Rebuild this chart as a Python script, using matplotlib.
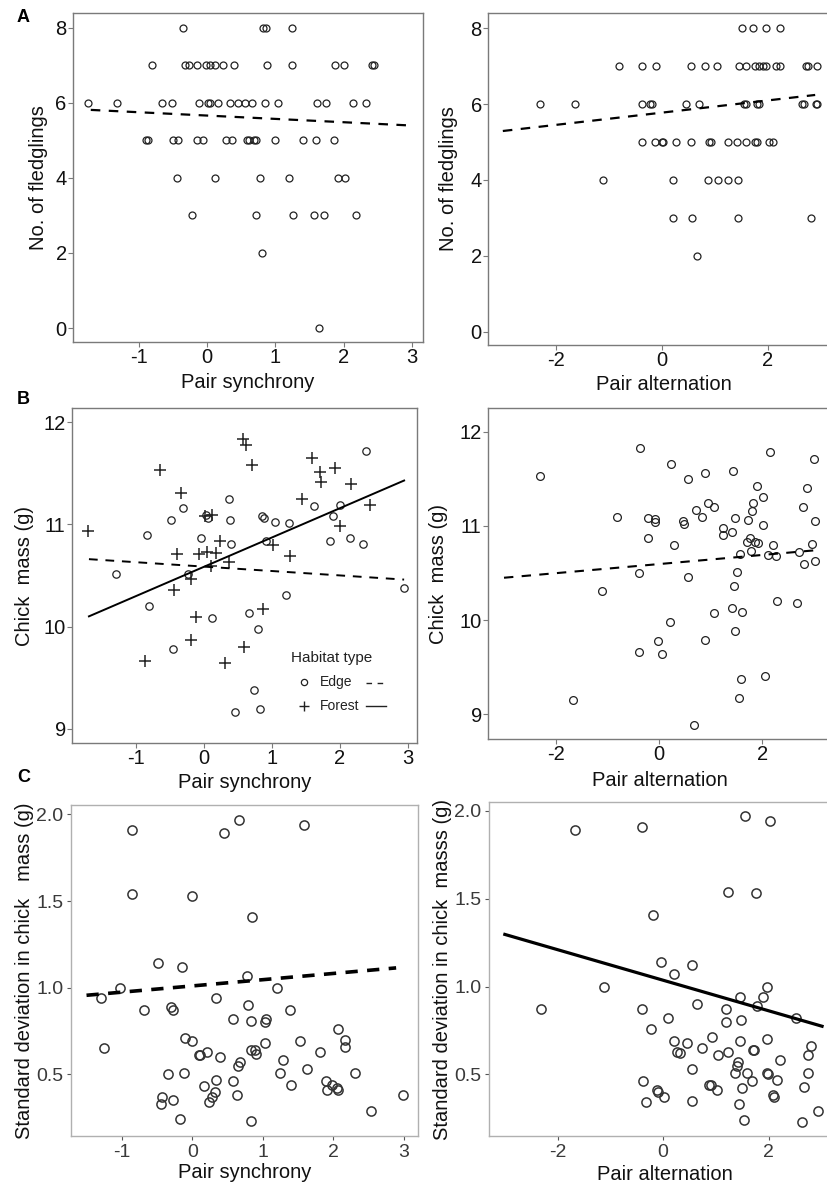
import matplotlib
matplotlib.use("Agg")
import matplotlib.pyplot as plt
from matplotlib.lines import Line2D

plt.rcParams['font.family'] = ['Liberation Sans', 'DejaVu Sans']
plt.rcParams['axes.unicode_minus'] = False

# ---------------- data ----------------
# Panel A left: Pair synchrony vs No. of fledglings
a1_x = [-0.35, 0.82, 0.86, 1.25,
        -0.80, -0.32, -0.26, -0.14, -0.01, 0.04, 0.11, 0.23, 0.40, 0.88, 1.25, 1.88, 2.00, 2.42, 2.45,
        -1.74, -1.31, -0.66, -0.51, -0.11, 0.01, 0.04, 0.16, 0.34, 0.45, 0.56, 0.66, 0.85, 1.04, 1.61, 1.74, 2.13, 2.33,
        -0.89, -0.86, -0.50, -0.43, -0.15, -0.06, 0.28, 0.37, 0.58, 0.61, 0.69, 0.72, 0.99, 1.41, 1.59, 1.86,
        -0.44, 0.11, 0.77, 1.20, 1.92, 2.02,
        -0.22, 0.71, 1.26, 1.57, 1.71, 2.18,
        0.80, 1.64]
a1_y = [8, 8, 8, 8,
        7, 7, 7, 7, 7, 7, 7, 7, 7, 7, 7, 7, 7, 7, 7,
        6, 6, 6, 6, 6, 6, 6, 6, 6, 6, 6, 6, 6, 6, 6, 6, 6, 6,
        5, 5, 5, 5, 5, 5, 5, 5, 5, 5, 5, 5, 5, 5, 5, 5,
        4, 4, 4, 4, 4, 4,
        3, 3, 3, 3, 3, 3,
        2, 0]
a1_fit_x = [-1.70, 2.92]
a1_fit_y = [5.81, 5.40]

# Panel A right: Pair alternation vs No. of fledglings
a2_x = [1.51, 1.72, 1.98, 2.24,
        -0.81, -0.38, -0.11, 0.55, 0.81, 1.04, 1.47, 1.59, 1.76, 1.83, 1.91, 1.98, 2.16, 2.23, 2.72, 2.77, 2.94,
        -2.30, -1.64, -0.38, -0.22, -0.19, 0.46, 0.71, 1.55, 1.59, 1.81, 1.84, 2.66, 2.69, 2.91, 2.94,
        -0.38, -0.12, 0.00, 0.03, 0.28, 0.55, 0.89, 0.93, 1.25, 1.43, 1.59, 1.76, 1.81, 2.03, 2.11,
        -1.11, 0.21, 0.88, 1.06, 1.25, 1.45,
        0.21, 0.57, 1.45, 2.83,
        0.66]
a2_y = [8, 8, 8, 8,
        7, 7, 7, 7, 7, 7, 7, 7, 7, 7, 7, 7, 7, 7, 7, 7, 7,
        6, 6, 6, 6, 6, 6, 6, 6, 6, 6, 6, 6, 6, 6, 6,
        5, 5, 5, 5, 5, 5, 5, 5, 5, 5, 5, 5, 5, 5, 5,
        4, 4, 4, 4, 4, 4,
        3, 3, 3, 3,
        2]
a2_fit_x = [-3.00, 2.90]
a2_fit_y = [5.29, 6.24]

# Panel B left: Pair synchrony vs Chick mass, by habitat
b1_edge_x = [-1.30, -0.84, -0.81, -0.49, -0.46, -0.31, -0.24, -0.05, 0.03, 0.05, 0.12, 0.37,
             0.38, 0.40, 0.45, 0.66, 0.73, 0.79, 0.83, 0.86, 0.88, 0.91, 1.05, 1.20, 1.25,
             1.62, 1.85, 1.90, 2.00, 2.15, 2.34, 2.39, 2.95]
b1_edge_y = [10.51, 10.90, 10.20, 11.04, 9.78, 11.16, 10.51, 10.87, 11.09, 11.06, 10.08, 11.25,
             11.04, 10.81, 9.16, 10.13, 9.38, 9.98, 9.19, 11.08, 11.06, 10.84, 11.02, 10.31, 11.01,
             11.18, 10.84, 11.08, 11.19, 10.87, 10.81, 11.72, 10.38]
b1_forest_x = [-1.71, -0.65, -0.34, -0.40, -0.45, -0.19, -0.20, -0.87, -0.12, -0.07, 0.01, 0.12,
               0.04, 0.18, 0.10, 0.24, 0.36, 0.30, 0.57, 0.62, 0.71, 0.59, 0.87, 1.01, 1.27,
               1.44, 1.59, 1.71, 1.73, 1.93, 2.01, 2.17, 2.45]
b1_forest_y = [10.94, 11.53, 11.31, 10.71, 10.36, 10.47, 9.87, 9.66, 10.09, 10.71, 11.08, 11.09,
               10.73, 10.72, 10.59, 10.84, 10.63, 9.64, 11.84, 11.78, 11.58, 9.80, 10.17, 10.80, 10.69,
               11.25, 11.65, 11.51, 11.42, 11.55, 10.98, 11.40, 11.19]
b1_edge_fit_x = [-1.70, 2.95]
b1_edge_fit_y = [10.66, 10.46]
b1_forest_fit_x = [-1.70, 2.95]
b1_forest_fit_y = [10.10, 11.43]

# Panel B right: Pair alternation vs Chick mass
b2_x = [-2.31, -1.66, -1.11, -0.81, -0.37, -0.38, -0.39, -0.21, -0.22, -0.08, -0.08, -0.02,
        0.05, 0.21, 0.24, 0.30, 0.46, 0.49, 0.57, 0.57, 0.68, 0.72, 0.83, 0.89, 0.89, 0.95,
        1.06, 1.06, 1.24, 1.24, 1.41, 1.43, 1.42, 1.46, 1.47, 1.48, 1.52, 1.56, 1.54, 1.59,
        1.61, 1.73, 1.71, 1.77, 1.78, 1.81, 1.83, 1.85, 1.89, 1.92, 2.02, 2.02, 2.06, 2.11,
        2.14, 2.21, 2.27, 2.29, 2.67, 2.71, 2.79, 2.80, 2.86, 2.97, 3.00, 3.02, 3.03]
b2_y = [11.53, 9.15, 10.31, 11.09, 11.83, 10.50, 9.66, 11.08, 10.87, 11.07, 11.04, 9.78,
        9.64, 9.98, 11.66, 10.80, 11.05, 11.02, 11.50, 10.46, 8.89, 11.17, 11.09, 11.56, 9.79, 11.24,
        11.20, 10.08, 10.98, 10.90, 10.94, 11.58, 10.13, 10.36, 9.88, 11.08, 10.51, 10.70, 9.18, 9.38,
        10.09, 11.06, 10.83, 10.87, 10.73, 11.16, 11.24, 10.83, 11.42, 10.82, 11.31, 11.01, 9.41, 10.69,
        11.78, 10.80, 10.68, 10.20, 10.18, 10.72, 11.20, 10.60, 11.40, 10.81, 11.71, 10.63, 11.05]
b2_fit_x = [-3.00, 3.00]
b2_fit_y = [10.45, 10.74]

# Panel C left: Pair synchrony vs SD in chick mass
c1_x = [-0.86, -0.85, 0.00, 0.45, 0.66, 1.59, 0.85, -0.48, -0.15, 0.77, -1.02, 1.20,
        -1.29, 0.34, -0.69, -0.30, -0.27, 0.79, 1.38, 0.58, 0.83, 1.05, 1.03, -1.25,
        -0.10, 0.00, 0.10, 0.11, 0.21, 0.39, 0.83, 0.89, 0.90, 1.03, 1.52, 2.07,
        2.16, 2.17, 1.81, 1.29, 0.68, 0.65, 1.63, 1.24, -0.34, -0.12, 2.31, 0.34,
        0.57, 0.16, 1.40, 1.90, 1.98, 2.05, 2.07, 1.91, 0.32, 0.28, 0.63, -0.43,
        -0.44, -0.27, 0.23, -0.17, 0.83, 2.53, 2.99]
c1_y = [1.91, 1.54, 1.53, 1.89, 1.97, 1.94, 1.41, 1.14, 1.12, 1.07, 1.00, 1.00,
        0.94, 0.94, 0.87, 0.89, 0.87, 0.90, 0.87, 0.82, 0.81, 0.82, 0.80, 0.65,
        0.71, 0.69, 0.61, 0.61, 0.63, 0.60, 0.64, 0.64, 0.62, 0.68, 0.69, 0.76,
        0.70, 0.66, 0.63, 0.58, 0.57, 0.55, 0.53, 0.51, 0.50, 0.51, 0.51, 0.47,
        0.46, 0.43, 0.44, 0.46, 0.44, 0.42, 0.41, 0.41, 0.40, 0.37, 0.38, 0.37,
        0.33, 0.35, 0.34, 0.24, 0.23, 0.29, 0.38]
c1_fit_x = [-1.50, 2.89]
c1_fit_y = [0.956, 1.114]

# Panel C right: Pair alternation vs SD in chick mass
c2_x = [-1.67, -0.40, 1.55, 2.02, 1.22, 1.75, -0.20, -0.04, 0.54, 0.20, -1.13, 1.96,
        -2.32, -0.40, 0.64, 1.46, 1.89, 1.77, 1.19, 2.52, 0.10, 1.48, 1.19, -0.24,
        0.92, 1.96, 0.20, 1.45, 0.45, 2.81, 0.74, 1.71, 1.72, 0.26, 1.23, 0.32,
        1.03, 2.74, 1.41, 2.22, 1.39, 0.55, 1.36, 1.58, 1.96, 1.99, 2.74, 2.16,
        -0.38, 1.69, 0.86, 0.91, 2.67, 1.50, 1.02, -0.12, -0.10, 0.01, 2.08, 2.10,
        -0.33, 0.54, 1.43, 1.53, 2.63, 2.93]
c2_y = [1.89, 1.91, 1.97, 1.94, 1.54, 1.53, 1.41, 1.14, 1.12, 1.07, 1.00, 1.00,
        0.87, 0.87, 0.90, 0.94, 0.94, 0.89, 0.87, 0.82, 0.82, 0.81, 0.80, 0.76,
        0.71, 0.70, 0.69, 0.69, 0.68, 0.66, 0.65, 0.64, 0.64, 0.63, 0.63, 0.62,
        0.61, 0.61, 0.57, 0.58, 0.55, 0.53, 0.51, 0.51, 0.51, 0.50, 0.51, 0.47,
        0.46, 0.46, 0.44, 0.44, 0.43, 0.42, 0.41, 0.41, 0.40, 0.37, 0.38, 0.37,
        0.34, 0.35, 0.33, 0.24, 0.23, 0.29]
c2_fit_x = [-3.00, 3.01]
c2_fit_y = [1.297, 0.774]

xlab_sync = "Pair synchrony"
xlab_alt = "Pair alternation"
ylab_a = "No. of fledglings"
ylab_b = "Chick  mass (g)"
ylab_c1 = "Standard deviation in chick   mass (g)"
ylab_c2 = "Standard deviation in chick  masss (g)"
ticks_a_y = [0, 2, 4, 6, 8]
ticks_b_y = [9, 10, 11, 12]
ticks_c_y = [0.5, 1.0, 1.5, 2.0]
ticklab_c_y = ["0.5", "1.0", "1.5", "2.0"]
ticks_sync = [-1, 0, 1, 2, 3]
ticks_alt = [-2, 0, 2]

# ---------------- figure ----------------
W, H = 827, 1186
fig = plt.figure(figsize=(W / 100, H / 100), dpi=100)


def add_ax(l, t, r, b):
    return fig.add_axes([l / W, 1 - b / H, (r - l) / W, (b - t) / H])


def style(ax, spine_col, tick_col, lab_col, tsize, length, pad):
    for s in ax.spines.values():
        s.set_color(spine_col)
        s.set_linewidth(1.0)
    ax.tick_params(axis='both', colors=tick_col, labelcolor=lab_col,
                   labelsize=tsize, length=length, width=0.8, pad=pad)


def labels(ax, box, xl, yl, xl_y, yl_x, size=14.5):
    l, t, r, b = box
    ax.set_xlabel(xl, fontsize=size, color='#111111')
    ax.xaxis.set_label_coords(0.5, (b - xl_y) / (b - t))
    ax.xaxis.label.set_va('center')
    ax.set_ylabel(yl, fontsize=size, color='#111111')
    ax.yaxis.set_label_coords((yl_x - l) / (r - l), 0.5)
    ax.yaxis.label.set_va('center')


AB_SP = '#7a7a7a'
C_SP = '#b0b0b0'

# ---- A left ----
box = (73, 13, 423, 342)
ax = add_ax(*box)
ax.plot(a1_x, a1_y, 'o', mfc='none', mec='#222222', ms=5, mew=0.9)
ax.plot(a1_fit_x, a1_fit_y, color='black', lw=1.6, dashes=(4.3, 3.8))
ax.set_xlim(-1.96, 3.16); ax.set_ylim(-0.37, 8.39)
ax.set_xticks(ticks_sync); ax.set_yticks(ticks_a_y)
style(ax, AB_SP, AB_SP, '#111111', 14.5, 3.5, 1.0)
labels(ax, box, xlab_sync, ylab_a, 382, 38)

# ---- A right ----
box = (488, 13, 839, 345)
ax = add_ax(*box)
ax.plot(a2_x, a2_y, 'o', mfc='none', mec='#222222', ms=5, mew=0.9)
ax.plot(a2_fit_x, a2_fit_y, color='black', lw=1.6, dashes=(4.3, 3.8))
ax.set_xlim(-3.28, 3.35); ax.set_ylim(-0.35, 8.40)
ax.set_xticks(ticks_alt); ax.set_yticks(ticks_a_y)
style(ax, AB_SP, AB_SP, '#111111', 14.5, 3.5, 1.0)
labels(ax, box, xlab_alt, ylab_a, 384, 448)

# ---- B left ----
box = (72, 408, 417, 743)
ax = add_ax(*box)
ax.plot(b1_edge_x, b1_edge_y, 'o', mfc='none', mec='#222222', ms=5.3, mew=0.9)
ax.plot(b1_forest_x, b1_forest_y, '+', color='#222222', ms=8, mew=1.1)
ax.plot(b1_edge_fit_x, b1_edge_fit_y, color='black', lw=1.4, dashes=(4.5, 4.0))
ax.plot(b1_forest_fit_x, b1_forest_fit_y, color='black', lw=1.4)
ax.set_xlim(-1.95, 3.14); ax.set_ylim(8.86, 12.14)
ax.set_xticks(ticks_sync); ax.set_yticks(ticks_b_y)
style(ax, AB_SP, AB_SP, '#111111', 14.5, 3.5, 1.0)
labels(ax, box, xlab_sync, ylab_b, 783, 25)


# legend (manual, in figure pixels)
def fx(px):
    return px / W


def fy(py):
    return 1 - py / H


fig.text(fx(291), fy(658), "Habitat type", fontsize=11, color='#222222', va='center', ha='left')
fig.add_artist(Line2D([fx(304)], [fy(682)], marker='o', mfc='none', mec='#222222', ms=4.5,
                      mew=0.9, transform=fig.transFigure))
fig.text(fx(320), fy(682), "Edge", fontsize=10, color='#222222', va='center', ha='left')
fig.add_artist(Line2D([fx(366), fx(386)], [fy(683), fy(683)], color='#222222', lw=1.0,
                      dashes=(4, 4), transform=fig.transFigure))
fig.add_artist(Line2D([fx(304)], [fy(706)], marker='+', color='#222222', ms=7.5, mew=1.0,
                      transform=fig.transFigure))
fig.text(fx(320), fy(706), "Forest", fontsize=10, color='#222222', va='center', ha='left')
fig.add_artist(Line2D([fx(366), fx(386)], [fy(706), fy(706)], color='#222222', lw=1.0,
                      transform=fig.transFigure))

# ---- B right ----
box = (488, 408, 832, 739)
ax = add_ax(*box)
ax.plot(b2_x, b2_y, 'o', mfc='none', mec='#222222', ms=5.6, mew=0.9)
ax.plot(b2_fit_x, b2_fit_y, color='black', lw=1.5, dashes=(4.5, 4.0))
ax.set_xlim(-3.31, 3.35); ax.set_ylim(8.74, 12.25)
ax.set_xticks(ticks_alt); ax.set_yticks(ticks_b_y)
style(ax, AB_SP, AB_SP, '#111111', 14.5, 3.5, 1.0)
labels(ax, box, xlab_alt, ylab_b, 781, 438)

# ---- C left ----
box = (71, 805, 418, 1136)
ax = add_ax(*box)
ax.plot(c1_x, c1_y, 'o', mfc='none', mec='#333333', ms=6.6, mew=1.1)
ax.plot(c1_fit_x, c1_fit_y, color='black', lw=2.6, dashes=(3.4, 2.6))
ax.set_xlim(-1.72, 3.20); ax.set_ylim(0.144, 2.054)
ax.set_xticks(ticks_sync); ax.set_yticks(ticks_c_y)
ax.set_yticklabels(ticklab_c_y)
style(ax, C_SP, '#555555', '#3a3a3a', 14, 3, 2.5)
labels(ax, box, xlab_sync, ylab_c1, 1173, 25)

# ---- C right ----
box = (489, 802, 840, 1136)
ax = add_ax(*box)
ax.plot(c2_x, c2_y, 'o', mfc='none', mec='#333333', ms=6.6, mew=1.1)
ax.plot(c2_fit_x, c2_fit_y, color='black', lw=2.3)
ax.set_xlim(-3.30, 3.35); ax.set_ylim(0.149, 2.051)
ax.set_xticks(ticks_alt); ax.set_yticks(ticks_c_y)
ax.set_yticklabels(ticklab_c_y)
style(ax, C_SP, '#555555', '#3a3a3a', 14, 3, 2.5)
labels(ax, box, xlab_alt, ylab_c2, 1175, 443)

# panel letters
fig.text(fx(23), fy(18), "A", fontsize=13, fontweight='bold', ha='center', va='center')
fig.text(fx(23), fy(399), "B", fontsize=13, fontweight='bold', ha='center', va='center')
fig.text(fx(24), fy(777), "C", fontsize=13, fontweight='bold', ha='center', va='center')

fig.savefig("out.png", dpi=100)
